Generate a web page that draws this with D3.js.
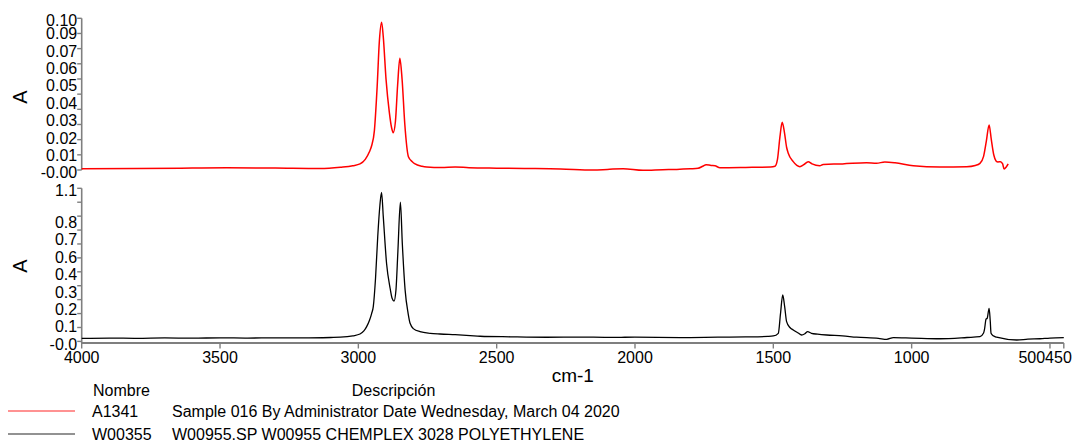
<!DOCTYPE html>
<html>
<head>
<meta charset="utf-8">
<script src="https://cdn.jsdelivr.net/npm/d3@7/dist/d3.min.js"></script>
<style>
  html, body { margin: 0; padding: 0; background: #fff; }
  svg { display: block; }
  text { font-family: "Liberation Sans", Arial, sans-serif; fill: #000; }
</style>
</head>
<body>
<svg id="chart" width="1080" height="444"></svg>
<script>
// ---------------- DATA ----------------
const xTicks = [4000, 3500, 3000, 2500, 2000, 1500, 1000, 500, 450];
const xLabel = "cm-1";
const yLabel = "A";

const topTicks = [0, 0.01, 0.02, 0.03, 0.04, 0.05, 0.06, 0.07, 0.08, 0.09, 0.10];
const topTickLabels = ["-0.00", "0.01", "0.02", "0.03", "0.04", "0.05", "0.06", "0.07", "", "0.09", "0.10"];
const bottomTicks = [0, 0.1, 0.2, 0.3, 0.4, 0.5, 0.6, 0.7, 0.8, 0.9, 1.0, 1.1];
const bottomTickLabels = ["-0.0", "0.1", "0.2", "0.3", "0.4", "", "0.6", "0.7", "0.8", "", "", "1.1"];

// Sample A1341 (red) : wavenumber, absorbance
const redWn = [4000, 3800, 3600, 3476, 3300, 3139, 3065, 3020, 2994, 2975, 2960, 2952, 2942, 2932, 2924, 2916, 2910, 2900, 2888, 2880, 2874, 2866, 2858, 2850, 2842, 2832, 2819, 2805, 2795, 2770, 2753, 2700, 2650, 2600, 2500, 2400, 2269, 2152, 2100, 2043, 1971, 1900, 1849, 1800, 1772, 1755, 1743, 1725, 1711, 1693, 1600, 1510, 1494, 1485, 1476, 1468, 1460, 1452, 1446, 1428, 1415, 1404, 1390, 1374, 1360, 1332, 1320, 1250, 1163, 1127, 1097, 1060, 994, 898, 801, 770, 753, 740, 730, 720, 712, 703, 695, 688, 679, 671, 666, 658, 651];
const redA = [0.0008, 0.0010, 0.0013, 0.0015, 0.0013, 0.0010, 0.0018, 0.0028, 0.0040, 0.0070, 0.0120, 0.0160, 0.0260, 0.0550, 0.0850, 0.0974, 0.0880, 0.0600, 0.0380, 0.0280, 0.0246, 0.0320, 0.0560, 0.0736, 0.0600, 0.0300, 0.0088, 0.0055, 0.0040, 0.0025, 0.0020, 0.0016, 0.0020, 0.0015, 0.0012, 0.0010, 0.0007, 0.0000, 0.0004, 0.0009, -0.0002, 0.0002, 0.0004, 0.0008, 0.0011, 0.0025, 0.0035, 0.0030, 0.0028, 0.0015, 0.0017, 0.0020, 0.0025, 0.0070, 0.0220, 0.0314, 0.0250, 0.0150, 0.0110, 0.0055, 0.0030, 0.0022, 0.0035, 0.0055, 0.0040, 0.0028, 0.0037, 0.0040, 0.0048, 0.0044, 0.0053, 0.0048, 0.0028, 0.0020, 0.0022, 0.0030, 0.0044, 0.0090, 0.0190, 0.0297, 0.0200, 0.0099, 0.0060, 0.0053, 0.0055, 0.0040, 0.0007, 0.0020, 0.0040];

// Reference W00355 (black)
const blackWn = [4000, 3900, 3800, 3700, 3600, 3500, 3400, 3300, 3200, 3100, 3065, 3020, 2994, 2980, 2970, 2960, 2952, 2946, 2938, 2930, 2922, 2916, 2910, 2898, 2885, 2878, 2871, 2864, 2857, 2848, 2841, 2831, 2820, 2813, 2800, 2777, 2740, 2705, 2650, 2596, 2560, 2450, 2320, 2200, 2100, 2000, 1837, 1700, 1600, 1520, 1500, 1482, 1474, 1466, 1459, 1452, 1440, 1428, 1410, 1398, 1386, 1376, 1362, 1340, 1307, 1250, 1199, 1120, 1090, 1066, 1000, 898, 800, 753, 740, 737, 731, 727, 720, 716, 713, 705, 693, 620, 580, 536, 500, 450];
const blackA = [0.022, 0.024, 0.022, 0.025, 0.023, 0.026, 0.024, 0.026, 0.025, 0.028, 0.030, 0.040, 0.053, 0.075, 0.106, 0.150, 0.200, 0.250, 0.450, 0.750, 0.980, 1.070, 0.900, 0.560, 0.380, 0.310, 0.290, 0.370, 0.650, 1.000, 0.700, 0.370, 0.200, 0.130, 0.090, 0.070, 0.058, 0.053, 0.048, 0.042, 0.037, 0.033, 0.030, 0.031, 0.029, 0.030, 0.027, 0.030, 0.032, 0.036, 0.039, 0.058, 0.200, 0.334, 0.250, 0.142, 0.100, 0.082, 0.060, 0.046, 0.055, 0.070, 0.058, 0.052, 0.046, 0.040, 0.030, 0.022, 0.015, 0.027, 0.024, 0.019, 0.028, 0.034, 0.060, 0.082, 0.160, 0.166, 0.238, 0.150, 0.058, 0.040, 0.030, 0.010, 0.016, 0.019, 0.024, 0.027];

const legendHeaders = ["Nombre", "Descripción"];
const legendNames = ["A1341", "W00355"];
const legendDescs = ["Sample 016 By Administrator Date Wednesday, March 04 2020", "W00955.SP W00955 CHEMPLEX 3028 POLYETHYLENE"];
const seriesColors = ["#ff0000", "#000000"];

// ---------------- LAYOUT ----------------
const svg = d3.select("#chart");
const axisColor = "#7f7f7f";

const x = d3.scaleLinear().domain([4000, 450]).range([81.7, 1063.8]);
const yTop = d3.scaleLinear().domain([0, 0.10]).range([170, 18.3]);
const yBot = d3.scaleLinear().domain([0, 1.1]).range([341.4, 188.3]);

function drawYAxis(scale, ticks, labels, yBottomEnd, labelY) {
  const g = svg.append("g");
  const r1 = scale.range()[1];
  g.append("line").attr("x1", x.range()[0]).attr("x2", x.range()[0])
    .attr("y1", r1).attr("y2", yBottomEnd)
    .attr("stroke", axisColor).attr("stroke-width", 1.6);
  g.selectAll("line.tk").data(ticks).join("line").attr("class", "tk")
    .attr("x1", x.range()[0] - 4.5).attr("x2", x.range()[0])
    .attr("y1", d => scale(d)).attr("y2", d => scale(d))
    .attr("stroke", axisColor).attr("stroke-width", 1.4);
  // labels: stacked upward from the zero tick at a fixed pitch, top label pinned to its tick
  const lab = ticks.map((t, i) => ({ t, s: labels[i] })).filter(d => d.s !== "");
  const pitch = 17.4;
  lab.forEach((d, i) => {
    d.y = (i === lab.length - 1) ? scale(d.t) + 1.7 : scale(0) + 2.7 - i * pitch;
  });
  g.selectAll("text").data(lab).join("text")
    .attr("x", x.range()[0] - 4.5).attr("y", d => d.y)
    .attr("dy", "0.36em").attr("text-anchor", "end")
    .style("font-size", "16px").text(d => d.s);
  svg.append("text").attr("transform", `translate(27,${labelY}) rotate(-90)`)
    .attr("text-anchor", "middle").style("font-size", "20px").text(yLabel);
}

drawYAxis(yTop, topTicks, topTickLabels, 170, 97);
drawYAxis(yBot, bottomTicks, bottomTickLabels, 343, 266);

// X axis
const axY = 343;
const gx = svg.append("g");
gx.append("line").attr("x1", x.range()[0]).attr("x2", x.range()[1])
  .attr("y1", axY).attr("y2", axY).attr("stroke", axisColor).attr("stroke-width", 2.2);
gx.selectAll("line.tk").data(xTicks).join("line").attr("class", "tk")
  .attr("x1", d => x(d)).attr("x2", d => x(d))
  .attr("y1", axY).attr("y2", axY + 5.5)
  .attr("stroke", axisColor).attr("stroke-width", 1.4);
const xt = gx.selectAll("text").data(xTicks).join("text")
  .attr("x", d => x(d)).attr("y", 362.5).attr("text-anchor", "middle")
  .style("font-size", "16px").text(d => d);
{
  const nodes = xt.nodes();
  const last = nodes[nodes.length - 1], prev = nodes[nodes.length - 2];
  const wl = last.getComputedTextLength();
  const rightEdge = x.range()[1] + 8;
  d3.select(last).attr("text-anchor", "end").attr("x", rightEdge);
  d3.select(prev).attr("text-anchor", "end").attr("x", rightEdge - wl);
}
svg.append("text").attr("x", (x.range()[0] + x.range()[1]) / 2).attr("y", 382)
  .attr("text-anchor", "middle").style("font-size", "19px").text(xLabel);

// Lines
const redData = redWn.map((w, i) => [w, redA[i]]);
const blackData = blackWn.map((w, i) => [w, blackA[i]]);
const lineTop = d3.line().x(d => x(d[0])).y(d => yTop(d[1])).curve(d3.curveMonotoneX);
const lineBot = d3.line().x(d => x(d[0])).y(d => yBot(d[1])).curve(d3.curveMonotoneX);
svg.append("path").datum(redData.slice().reverse()).attr("d", lineTop)
  .attr("fill", "none").attr("stroke", seriesColors[0]).attr("stroke-width", 1.5);
svg.append("path").datum(blackData.slice().reverse()).attr("d", lineBot)
  .attr("fill", "none").attr("stroke", seriesColors[1]).attr("stroke-width", 1.3);

// Legend
const lg = svg.append("g");
lg.append("text").attr("x", 93).attr("y", 396)
  .style("font-size", "16px").text(legendHeaders[0]);
lg.append("text").attr("x", 393.5).attr("y", 396)
  .attr("text-anchor", "middle").style("font-size", "16px").text(legendHeaders[1]);
legendNames.forEach((n, i) => {
  const by = 417 + i * 23;
  lg.append("line").attr("x1", 8).attr("x2", 75).attr("y1", by - 6).attr("y2", by - 6)
    .attr("stroke", seriesColors[i]).attr("stroke-width", 1.2).attr("opacity", 0.85);
  lg.append("text").attr("x", 92).attr("y", by)
    .style("font-size", "16px").text(n);
  lg.append("text").attr("x", 172).attr("y", by)
    .style("font-size", "16px").text(legendDescs[i]);
});
</script>
</body>
</html>
